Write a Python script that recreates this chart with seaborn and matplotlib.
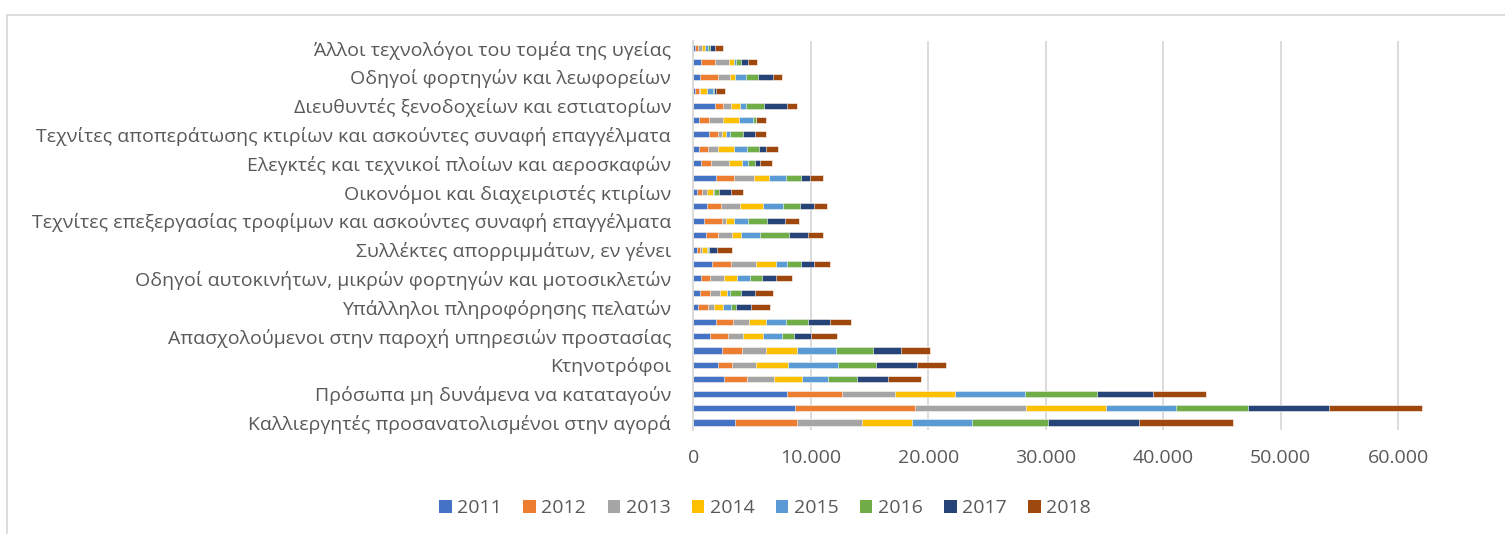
import matplotlib
matplotlib.use('Agg')
import matplotlib.pyplot as plt
import matplotlib.ticker as mticker
from matplotlib.patches import Patch, Rectangle
import pandas as pd
import seaborn as sns

# Categories (top to bottom); Excel skipped every second label
labels = [
    'Άλλοι τεχνολόγοι του τομέα της υγείας', '',
    'Οδηγοί φορτηγών και λεωφορείων', '',
    'Διευθυντές ξενοδοχείων και εστιατορίων', '',
    'Τεχνίτες αποπεράτωσης κτιρίων και ασκούντες συναφή επαγγέλματα', '',
    'Ελεγκτές και τεχνικοί πλοίων και αεροσκαφών', '',
    'Οικονόμοι και διαχειριστές κτιρίων', '',
    'Τεχνίτες επεξεργασίας τροφίμων και ασκούντες συναφή επαγγέλματα', '',
    'Συλλέκτες απορριμμάτων, εν γένει', '',
    'Οδηγοί αυτοκινήτων, μικρών φορτηγών και μοτοσικλετών', '',
    'Υπάλληλοι πληροφόρησης πελατών', '',
    'Απασχολούμενοι στην παροχή υπηρεσιών προστασίας', '',
    'Κτηνοτρόφοι', '',
    'Πρόσωπα μη δυνάμενα να καταταγούν', '',
    'Καλλιεργητές προσανατολισμένοι στην αγορά',
]

years = ['2011', '2012', '2013', '2014', '2015', '2016', '2017', '2018']
colors = ['#4472C4', '#ED7D31', '#A5A5A5', '#FFC000',
          '#5B9BD5', '#70AD47', '#264478', '#9E480E']

v2011 = [140, 680, 590, 140, 1810, 510, 1300, 510, 620, 1950, 340, 1160, 930, 1100,
         310, 1610, 680, 560, 420, 1920, 1380, 2450, 2060, 2620, 8000, 8630, 3550]
v2012 = [230, 1160, 1520, 310, 730, 850, 760, 730, 850, 1520, 370, 1160, 1520, 960,
         280, 1610, 710, 820, 790, 1500, 1610, 1660, 1270, 1950, 4680, 10240, 5300]
v2013 = [340, 1210, 990, 140, 710, 1130, 420, 870, 1610, 1720, 420, 1690, 340, 1270,
         140, 2090, 1210, 900, 560, 1350, 1270, 2090, 2000, 2310, 4460, 9480, 5510]
v2014 = [270, 420, 450, 540, 710, 1410, 310, 1350, 1100, 1240, 560, 1890, 680, 730,
         400, 1690, 1100, 590, 730, 1410, 1690, 2620, 2760, 2340, 5130, 6790, 4230]
v2015 = [260, 140, 960, 510, 560, 1180, 310, 1130, 510, 1470, 110, 1750, 1160, 1610,
         140, 990, 1160, 280, 680, 1750, 1640, 3300, 4200, 2230, 5980, 5920, 5110]
v2016 = [150, 420, 1020, 110, 1520, 230, 1100, 990, 540, 1240, 370, 1440, 1610, 2450,
         30, 1180, 990, 900, 450, 1810, 1020, 3190, 3300, 2510, 6100, 6130, 6470]
v2017 = [420, 590, 1270, 170, 1920, 30, 1070, 620, 480, 820, 1020, 1180, 1550, 1640,
         710, 1100, 1180, 1240, 1300, 1890, 1410, 2400, 3440, 2570, 4740, 6900, 7750]
v2018 = [740, 790, 790, 790, 870, 850, 930, 990, 1020, 1040, 1070, 1130, 1180, 1240,
         1270, 1350, 1410, 1500, 1640, 1810, 2170, 2450, 2510, 2880, 4560, 7930, 7970]

rows = [f'r{i:02d}' for i in range(len(labels))]
df = pd.DataFrame({'row': rows, '2011': v2011, '2012': v2012, '2013': v2013,
                   '2014': v2014, '2015': v2015, '2016': v2016,
                   '2017': v2017, '2018': v2018})
cum = df[years].cumsum(axis=1)
cum['row'] = rows

sns.set_theme(style='white')
plt.rcParams['font.family'] = ['Open Sans', 'DejaVu Sans']
text_col = '#595959'
grid_col = '#D9D9D9'

W, H = 1505, 534
fig = plt.figure(figsize=(W / 100, H / 100), dpi=100)
x0, x1 = 693.3 / W, 1515.8 / W
y_top, y_bot = 1 - 40.8 / H, 1 - 429.7 / H
ax = fig.add_axes([x0, y_bot, x1 - x0, y_top - y_bot])

# stacked bars: draw cumulative totals, largest first
for year, col in reversed(list(zip(years, colors))):
    sns.barplot(data=cum, x=year, y='row', order=rows, orient='h', color=col,
                saturation=1, width=0.42, edgecolor='white', linewidth=0.4,
                errorbar=None, ax=ax)

ax.set_xlim(0, 70000)
ax.set_ylim(len(rows) - 0.5, -0.5)
ax.set_xticks(range(0, 60001, 10000))
ax.xaxis.set_major_formatter(mticker.FuncFormatter(lambda v, p: f'{int(v):,}'.replace(',', '.')))
ax.set_yticks(range(len(rows)))
ax.set_yticklabels(labels)
ax.set_xlabel('')
ax.set_ylabel('')
ax.xaxis.grid(True, color=grid_col, linewidth=1.3)
ax.yaxis.grid(False)
ax.set_axisbelow(True)
for s in ['top', 'right', 'bottom']:
    ax.spines[s].set_visible(False)
ax.spines['left'].set_color(grid_col)
ax.spines['left'].set_linewidth(1.3)
ax.tick_params(axis='x', length=0, pad=14, labelsize=14, labelcolor=text_col)
ax.tick_params(axis='y', length=0, pad=16, labelsize=14, labelcolor=text_col)

handles = [Patch(facecolor=c, edgecolor='none', label=y) for y, c in zip(years, colors)]
fig.legend(handles=handles, loc='center', bbox_to_anchor=(765 / W, 1 - 508 / H),
           ncol=8, frameon=False, fontsize=14, handlelength=0.65, handleheight=0.65,
           handletextpad=0.27, columnspacing=1.1, labelcolor=text_col)

# chart-area border (cropped at right and bottom in the original)
fig.patches.append(Rectangle((7 / W, -0.1), 1.2, 1 - 15 / H + 0.1, transform=fig.transFigure,
                             fill=False, edgecolor=grid_col, linewidth=1.3))

fig.savefig('out.png', dpi=100)
